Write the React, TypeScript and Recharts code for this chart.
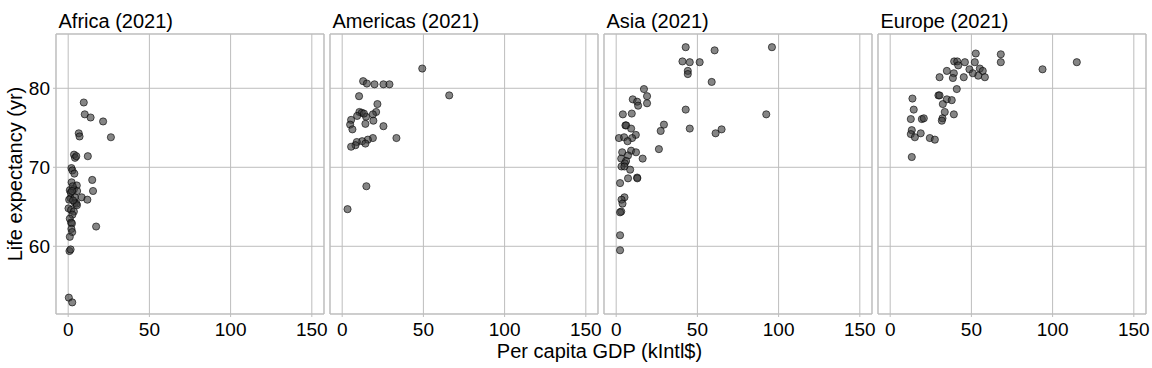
import { ScatterChart, Scatter, XAxis, YAxis, CartesianGrid, ReferenceArea } from "recharts";

const regions = ["Africa", "Americas", "Asia", "Europe"];
const year = 2021;

// [per capita GDP (kIntl$), life expectancy (yr)]
const africa: [number, number][] = [
  [9.6, 78.2], [10.2, 76.7], [13.8, 76.3], [21.5, 75.8], [6.5, 74.3], [7.0, 73.9],
  [26.3, 73.8], [3.6, 71.6], [4.2, 71.2], [5.0, 71.4], [12.1, 71.4], [2.0, 69.9],
  [2.6, 69.6], [3.8, 69.2], [14.8, 68.4], [2.1, 68.1], [5.3, 67.7], [1.0, 67.1],
  [3.5, 67.2], [5.5, 67.0], [15.3, 67.0], [1.4, 66.1], [4.1, 66.2], [8.3, 66.2],
  [11.8, 65.9], [4.1, 65.5], [5.1, 65.4], [5.4, 65.2], [0.2, 64.8], [1.8, 64.6],
  [3.5, 64.4], [2.6, 64.0], [1.0, 63.5], [1.8, 63.0], [2.3, 62.9], [2.0, 62.2],
  [2.5, 61.8], [1.0, 61.2], [17.2, 62.5], [0.8, 59.4], [1.5, 59.6], [0.4, 53.5],
  [2.5, 52.9], [1.6, 66.8], [2.8, 67.6], [0.6, 65.9], [3.0, 65.8], [2.4, 67.0],
];

const americas: [number, number][] = [
  [49.3, 82.5], [65.9, 79.1], [12.9, 80.9], [15.2, 80.6], [19.9, 80.5], [25.4, 80.5],
  [29.1, 80.5], [10.4, 79.0], [21.7, 78.0], [10.6, 77.0], [12.1, 76.9], [9.2, 76.5],
  [14.7, 76.4], [20.9, 77.0], [18.9, 76.7], [13.4, 76.8], [5.5, 76.0], [4.9, 75.4],
  [6.3, 74.8], [14.3, 75.5], [19.2, 75.9], [25.4, 75.2], [33.4, 73.7], [18.9, 73.7],
  [15.8, 73.5], [12.3, 73.3], [14.3, 73.0], [9.0, 73.2], [8.2, 72.8], [5.5, 72.6],
  [14.9, 67.6], [3.3, 64.7],
];

const asia: [number, number][] = [
  [42.8, 85.2], [60.6, 84.8], [95.9, 85.2], [40.8, 83.4], [45.3, 83.3], [51.4, 83.3],
  [44.1, 82.2], [44.1, 81.8], [58.8, 80.8], [17.1, 79.9], [19.0, 79.0], [19.0, 78.1],
  [10.2, 78.6], [12.9, 78.3], [13.5, 77.8], [42.8, 77.3], [92.4, 76.7], [4.1, 76.7],
  [9.6, 76.8], [5.7, 75.3], [6.2, 75.3], [29.4, 75.4], [27.4, 74.6], [45.3, 74.9],
  [64.9, 74.8], [61.2, 74.3], [9.2, 74.9], [12.1, 74.1], [9.8, 73.7], [1.7, 73.7],
  [4.9, 73.8], [7.0, 73.3], [26.3, 72.3], [3.7, 71.9], [9.2, 72.1], [12.2, 71.9],
  [7.3, 71.5], [16.3, 71.1], [3.1, 71.1], [6.1, 70.8], [5.3, 70.5], [3.3, 70.1],
  [5.1, 70.1], [8.6, 69.7], [7.3, 68.6], [12.9, 68.7], [13.0, 68.6], [2.4, 68.0],
  [5.1, 66.2], [3.3, 65.9], [3.9, 65.4], [3.1, 64.4], [2.4, 64.3], [2.4, 61.4],
  [2.4, 59.5],
];

const europe: [number, number][] = [
  [52.7, 84.4], [68.1, 84.3], [68.1, 83.3], [114.9, 83.3], [93.8, 82.4], [39.4, 83.4],
  [41.3, 83.4], [41.9, 82.9], [46.0, 83.3], [52.1, 83.3], [48.8, 82.4], [55.2, 82.5],
  [57.0, 82.2], [58.3, 81.4], [54.2, 81.6], [50.9, 81.9], [34.9, 82.2], [39.2, 81.9],
  [30.4, 81.4], [38.6, 81.3], [45.3, 81.4], [41.0, 79.9], [29.7, 79.1], [30.4, 79.1],
  [34.9, 78.6], [37.9, 78.5], [32.4, 78.0], [33.6, 77.0], [39.2, 76.7], [32.2, 76.2],
  [31.8, 75.9], [13.7, 78.7], [14.5, 77.3], [12.7, 76.1], [19.5, 76.1], [20.7, 76.2],
  [13.3, 74.7], [12.7, 74.2], [15.2, 73.8], [18.8, 74.3], [24.4, 73.7], [27.5, 73.5],
  [13.3, 71.3],
];

const xTicks = [0, 50, 100, 150];
const yTicks = [60, 70, 80];
const xDomain: [number, number] = [-7.5, 157.5];
const yDomain: [number, number] = [51.43, 86.87];

const FONT = '"Liberation Sans", Arial, sans-serif';
const GRID = "#bdbdbd";
const PLOT_LEFT = 56;
const PLOT_STEP = 274;
const PLOT_W = 268;
const PLOT_TOP = 34;
const PLOT_BOTTOM = 314;
const H = 368;

const Dot = (props: any) => (
  <circle
    cx={props.cx}
    cy={props.cy}
    r={3.6}
    fill="#3a3a3a"
    fillOpacity={0.62}
    stroke="#000"
    strokeOpacity={0.75}
    strokeWidth={0.8}
  />
);

function Panel({ index, points }: { index: number; points: [number, number][] }) {
  const first = index === 0;
  const plotLeft = PLOT_LEFT + index * PLOT_STEP;
  const yAxisW = first ? 40 : 0;
  const left = first ? 0 : plotLeft - 4;
  const data = points.map(([gdp, life]) => ({ gdp, life }));
  const tickStyle = { fill: "#000", fontSize: 19, fontFamily: FONT };

  return (
    <div style={{ position: "absolute", left, top: 0 }}>
      <ScatterChart
        width={plotLeft - left + PLOT_W + 18}
        height={H}
        margin={{ top: PLOT_TOP, right: 18, bottom: H - PLOT_BOTTOM - 30, left: plotLeft - left - yAxisW }}
      >
        <CartesianGrid stroke={GRID} strokeWidth={1} />
        <ReferenceArea
          x1={xDomain[0]}
          x2={xDomain[1]}
          y1={yDomain[0]}
          y2={yDomain[1]}
          fill="none"
          fillOpacity={0}
          stroke={GRID}
          strokeWidth={1}
        />
        <XAxis
          type="number"
          dataKey="gdp"
          domain={xDomain}
          ticks={xTicks}
          allowDataOverflow
          height={30}
          axisLine={false}
          tickLine={{ stroke: GRID }}
          tickSize={3}
          tickMargin={6}
          tick={tickStyle}
          interval={0}
        />
        <YAxis
          type="number"
          dataKey="life"
          domain={yDomain}
          ticks={yTicks}
          allowDataOverflow
          hide={!first}
          width={yAxisW}
          axisLine={false}
          tickLine={{ stroke: GRID }}
          tickSize={3}
          tickMargin={3}
          tick={tickStyle}
          interval={0}
        />
        <Scatter data={data} shape={Dot} isAnimationActive={false} />
      </ScatterChart>
    </div>
  );
}

export default function App() {
  const series = [africa, americas, asia, europe];
  return (
    <div
      style={{
        position: "absolute",
        left: 0,
        top: 0,
        width: 1152,
        height: H,
        background: "#fff",
        fontFamily: FONT,
      }}
    >
      {series.map((pts, i) => (
        <Panel key={regions[i]} index={i} points={pts} />
      ))}
      <svg
        width={1152}
        height={H}
        style={{ position: "absolute", left: 0, top: 0, pointerEvents: "none" }}
      >
        {regions.map((r, i) => (
          <text
            key={r}
            x={PLOT_LEFT + i * PLOT_STEP + 2.5}
            y={28}
            fontSize={20}
            fontFamily={FONT}
            fill="#000"
          >
            {`${r} (${year})`}
          </text>
        ))}
        <text
          x={599.5}
          y={357.5}
          textAnchor="middle"
          fontSize={20}
          fontFamily={FONT}
          fill="#000"
        >
          Per capita GDP (kIntl$)
        </text>
        <text
          x={22}
          y={174}
          textAnchor="middle"
          fontSize={20}
          fontFamily={FONT}
          fill="#000"
          transform="rotate(-90, 22, 174)"
        >
          Life expectancy (yr)
        </text>
      </svg>
    </div>
  );
}
